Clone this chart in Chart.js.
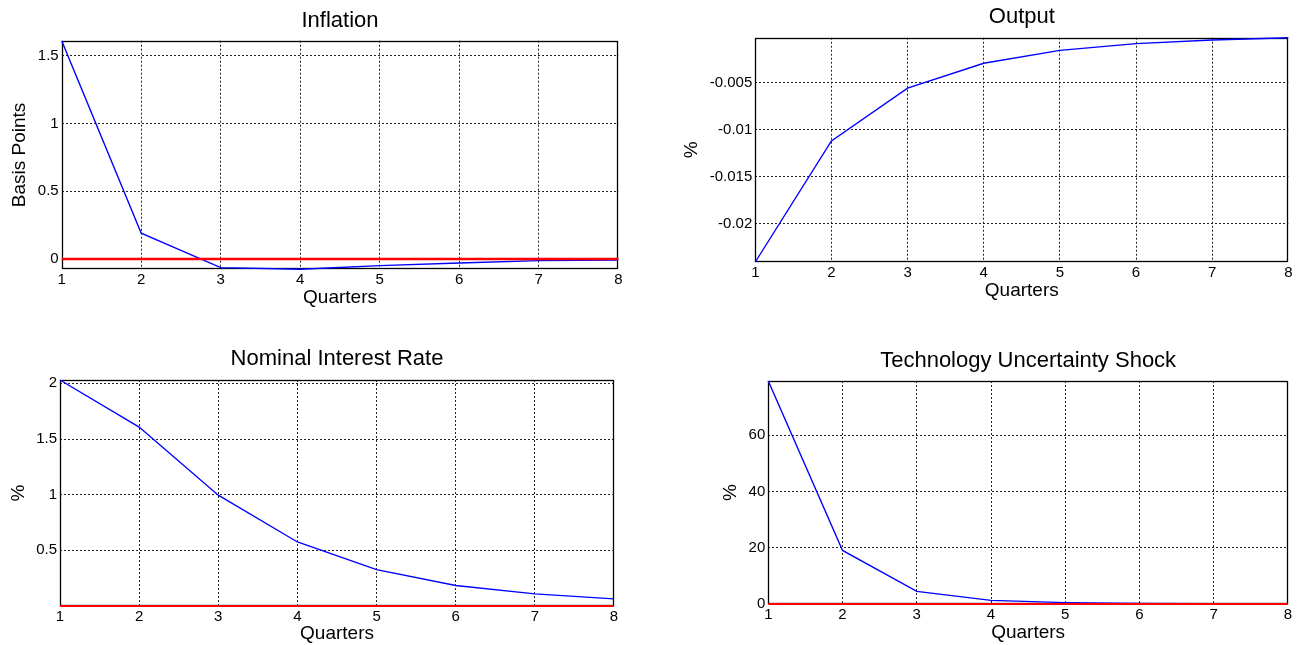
<!DOCTYPE html>
<html>
<head>
<meta charset="utf-8">
<script src="https://cdn.jsdelivr.net/npm/chart.js@4/dist/chart.umd.min.js"></script>
<style>
  html, body { margin: 0; padding: 0; background: #fff; }
  body { width: 1303px; height: 645px; position: relative; overflow: hidden; }
  canvas { position: absolute; }
</style>
</head>
<body>
<canvas id="inflationCanvas" width="650" height="320" style="left:0;top:0"></canvas>
<canvas id="outputCanvas" width="653" height="320" style="left:650px;top:0"></canvas>
<canvas id="interestCanvas" width="650" height="320" style="left:0;top:325px"></canvas>
<canvas id="shockCanvas" width="653" height="320" style="left:650px;top:325px"></canvas>
<script>
// impulse responses, quarters 1-8
const quarters = [1, 2, 3, 4, 5, 6, 7, 8]
const inflation = [1.61, 0.19, -0.064, -0.076, -0.049, -0.03, -0.012, -0.007]
const output = [-0.0241, -0.0112, -0.00557, -0.00292, -0.00155, -0.00083, -0.00044, -0.0002]
const interestRate = [2.03, 1.607, 0.995, 0.575, 0.327, 0.184, 0.109, 0.064]
const techShock = [79.3, 19.05, 4.5, 1.3, 0.5, 0.2, 0.1, 0.05]
const zeroLine = [0, 0, 0, 0, 0, 0, 0, 0]

// y tick values
const inflationTicks = [0, 0.5, 1, 1.5]
const outputTicks = [-0.02, -0.015, -0.01, -0.005]
const interestTicks = [0.5, 1, 1.5, 2]
const shockTicks = [0, 20, 40, 60]

const FONT = "'Liberation Sans', Arial, Helvetica, sans-serif"
Chart.defaults.font.family = FONT
Chart.defaults.color = '#000'
Chart.defaults.devicePixelRatio = 1

// solid frame round the plot area
const boxPlugin = {
  id: 'box',
  beforeDatasetsDraw: (chart) => {
    const { ctx, chartArea: a } = chart
    const l = Math.round(a.left) + 0.5
    const t = Math.round(a.top) + 0.5
    const r = Math.round(a.right) - 0.5
    const b = Math.round(a.bottom) - 0.5
    ctx.save()
    ctx.strokeStyle = '#000'
    ctx.lineWidth = 1.3
    ctx.strokeRect(l, t, r - l, b - t)
    ctx.restore()
  },
}

const toPoints = (values) => values.map((v, i) => ({ x: quarters[i], y: v }))

// dotted grid, left off where it would sit on the frame
const gridColor = (ctx) => {
  const s = ctx.scale
  if (!ctx.tick) return '#222'
  const v = ctx.tick.value
  return v <= s.min || v >= s.max ? 'rgba(0,0,0,0)' : '#222'
}

const drawPanel = (canvasId, p) => {
  const all = p.series.concat(p.zero ? zeroLine : [])
  const datasets = []
  if (p.zero) {
    datasets.push({
      data: toPoints(zeroLine),
      borderColor: '#ff0000',
      borderWidth: p.zeroWidth,
      pointRadius: 0,
      clip: false,
    })
  }
  datasets.push({
    data: toPoints(p.series),
    borderColor: '#0000ff',
    borderWidth: 1.4,
    pointRadius: 0,
    tension: 0,
    clip: false,
  })

  return new Chart(document.getElementById(canvasId), {
    type: 'line',
    data: { datasets },
    plugins: [boxPlugin],
    options: {
      responsive: false,
      animation: false,
      layout: { padding: { left: 0, top: 0, bottom: 0, right: p.padRight } },
      plugins: {
        legend: { display: false },
        tooltip: { enabled: false },
        title: { display: false },
      },
      scales: {
        // top axis only carries the panel title, centred over the plot
        top: {
          type: 'linear',
          position: 'top',
          min: quarters[0],
          max: quarters[quarters.length - 1],
          afterFit: (scale) => {
            scale.height = p.plotTop
          },
          ticks: { display: false },
          grid: { display: false, drawTicks: false },
          border: { display: false },
          title: {
            display: true,
            text: p.title,
            font: { size: 22 },
            padding: { top: p.titleY - 13.2, bottom: 0 },
          },
        },
        x: {
          type: 'linear',
          min: quarters[0],
          max: quarters[quarters.length - 1],
          afterBuildTicks: (scale) => {
            scale.ticks = quarters.map((q) => ({ value: q }))
          },
          afterFit: (scale) => {
            scale.height = p.xAxisH
          },
          ticks: {
            font: { size: 15 },
            padding: 2,
            maxRotation: 0,
            autoSkip: false,
            callback: (v) => String(v),
          },
          grid: { color: gridColor, lineWidth: 1, drawTicks: false },
          border: { display: false, dash: [2, 2] },
          title: {
            display: true,
            text: 'Quarters',
            font: { size: 19 },
            padding: { top: 0, bottom: p.xTitlePad },
          },
        },
        y: {
          min: Math.min(...all),
          max: Math.max(...all),
          afterBuildTicks: (scale) => {
            scale.ticks = p.ticks.map((t) => ({ value: t }))
          },
          afterFit: (scale) => {
            scale.width = p.yAxisW
          },
          ticks: {
            font: { size: 15 },
            padding: 3,
            autoSkip: false,
            callback: (v) => String(v),
          },
          grid: { color: gridColor, lineWidth: 1, drawTicks: false },
          border: { display: false, dash: [2, 2] },
          title: {
            display: true,
            text: p.yLabel,
            font: { size: 19 },
            padding: { top: p.yTitlePad, bottom: 0 },
          },
        },
      },
    },
  })
}

drawPanel('inflationCanvas', {
  title: 'Inflation',
  yLabel: 'Basis Points',
  series: inflation,
  ticks: inflationTicks,
  zero: true,
  zeroWidth: 2.4,
  plotTop: 40.7,
  titleY: 20.7,
  yAxisW: 61.7,
  xAxisH: 50.7,
  padRight: 31.7,
  xTitlePad: 10.9,
  yTitlePad: 8.6,
})

drawPanel('outputCanvas', {
  title: 'Output',
  yLabel: '%',
  series: output,
  ticks: outputTicks,
  zero: false,
  plotTop: 37.7,
  titleY: 17.3,
  yAxisW: 105.3,
  xAxisH: 58,
  padRight: 14.7,
  xTitlePad: 17.9,
  yTitlePad: 30.3,
})

drawPanel('interestCanvas', {
  title: 'Nominal Interest Rate',
  yLabel: '%',
  series: interestRate,
  ticks: interestTicks,
  zero: true,
  zeroWidth: 1.8,
  plotTop: 55,
  titleY: 34.3,
  yAxisW: 60,
  xAxisH: 39,
  padRight: 36,
  xTitlePad: 0,
  yTitlePad: 7.4,
})

drawPanel('shockCanvas', {
  title: 'Technology Uncertainty Shock',
  yLabel: '%',
  series: techShock,
  ticks: shockTicks,
  zero: true,
  zeroWidth: 1.8,
  plotTop: 56,
  titleY: 35.7,
  yAxisW: 118.3,
  xAxisH: 41,
  padRight: 15,
  xTitlePad: 0.9,
  yTitlePad: 69.6,
})
</script>
</body>
</html>
